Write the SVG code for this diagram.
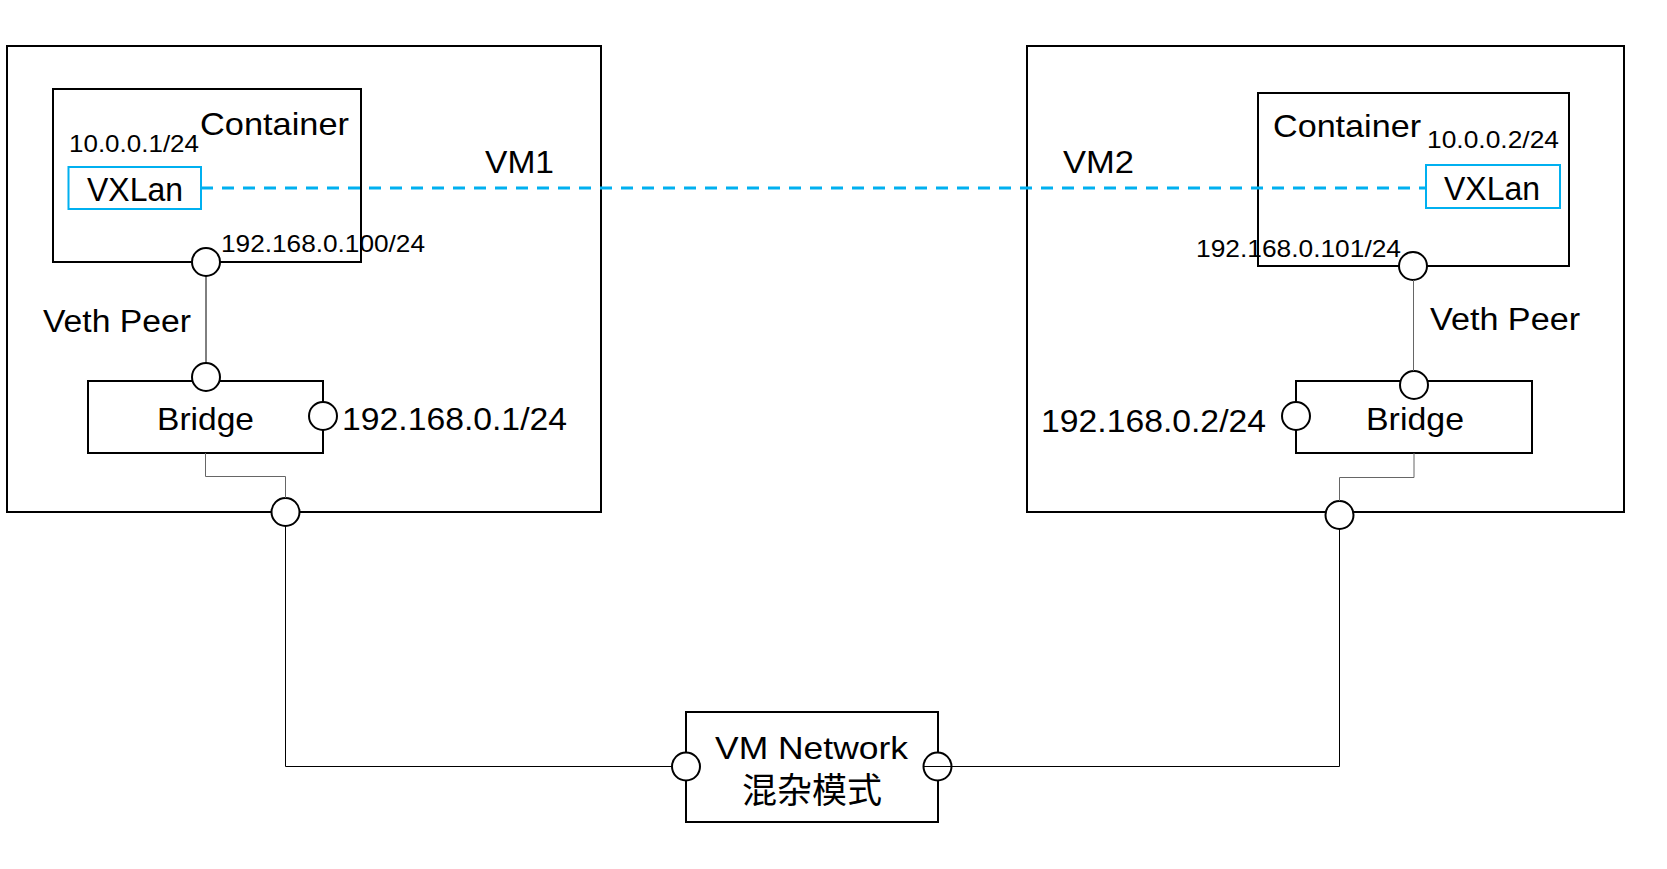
<svg xmlns="http://www.w3.org/2000/svg" width="1667" height="869" viewBox="0 0 1667 869">
<style>
.box{fill:#fff;stroke:#000;stroke-width:2}
.vx{fill:#fff;stroke:#00B0F0;stroke-width:2}
.port{fill:#fff;stroke:#000;stroke-width:2}
.ln{fill:none;stroke:#000;stroke-width:1}
.lg{fill:none;stroke:#666;stroke-width:1}
.dash{fill:none;stroke:#00B0F0;stroke-width:3;stroke-dasharray:12 9}
text{font-family:"Liberation Sans","Noto Sans CJK SC",sans-serif;fill:#000}
.l{font-size:32px}
.s{font-size:24px}
</style>
<rect width="1667" height="869" fill="#fff"/>
<g id="vm1">
<rect class="box" x="7" y="46" width="594" height="466"/>
<text class="l" x="485" y="173" textLength="69" lengthAdjust="spacingAndGlyphs">VM1</text>
</g>
<g id="vm2">
<rect class="box" x="1027" y="46" width="597" height="466"/>
<text class="l" x="1063" y="173" textLength="71" lengthAdjust="spacingAndGlyphs">VM2</text>
</g>
<g id="container1">
<rect class="box" x="53" y="89" width="308" height="173"/>
<text class="l" x="200" y="135" textLength="149" lengthAdjust="spacingAndGlyphs">Container</text>
<text class="s" x="69" y="152" textLength="130" lengthAdjust="spacingAndGlyphs">10.0.0.1/24</text>
<text class="s" x="221" y="252" textLength="204" lengthAdjust="spacingAndGlyphs">192.168.0.100/24</text>
</g>
<g id="vxlan1">
<rect class="vx" x="68.5" y="167" width="132.5" height="42"/>
<text x="87" y="201" font-size="33" textLength="96" lengthAdjust="spacingAndGlyphs">VXLan</text>
</g>
<g id="container2">
<rect class="box" x="1258" y="93" width="311" height="173"/>
<text class="l" x="1273" y="137" textLength="148" lengthAdjust="spacingAndGlyphs">Container</text>
<text class="s" x="1427" y="148" textLength="132" lengthAdjust="spacingAndGlyphs">10.0.0.2/24</text>
<text class="s" x="1196" y="257" textLength="205" lengthAdjust="spacingAndGlyphs">192.168.0.101/24</text>
</g>
<g id="vxlan2">
<rect class="vx" x="1426" y="165" width="134" height="43"/>
<text x="1444" y="200" font-size="33" textLength="96" lengthAdjust="spacingAndGlyphs">VXLan</text>
</g>
<g id="bridge1">
<rect class="box" x="88" y="381" width="235" height="72"/>
<text class="l" x="157" y="430" textLength="97" lengthAdjust="spacingAndGlyphs">Bridge</text>
<text class="l" x="342" y="430" textLength="225" lengthAdjust="spacingAndGlyphs">192.168.0.1/24</text>
</g>
<g id="bridge2">
<rect class="box" x="1296" y="381" width="236" height="72"/>
<text class="l" x="1366" y="430" textLength="98" lengthAdjust="spacingAndGlyphs">Bridge</text>
<text class="l" x="1041" y="432" textLength="225" lengthAdjust="spacingAndGlyphs">192.168.0.2/24</text>
</g>
<g id="vmnet">
<rect class="box" x="686" y="712" width="252" height="110"/>
<text class="l" x="715" y="759" textLength="193" lengthAdjust="spacingAndGlyphs">VM Network</text>
<text x="812" y="803" font-size="35" text-anchor="middle" font-family="'Noto Sans CJK SC',sans-serif">混杂模式</text>
</g>
<g id="labels">
<text x="43" y="332" font-size="31" textLength="148" lengthAdjust="spacingAndGlyphs">Veth Peer</text>
<text x="1430" y="330" font-size="31" textLength="150" lengthAdjust="spacingAndGlyphs">Veth Peer</text>
</g>
<g id="ports">
<circle class="port" cx="206" cy="262" r="14"/>
<circle class="port" cx="206" cy="377" r="14"/>
<circle class="port" cx="323" cy="416" r="14"/>
<circle class="port" cx="285.5" cy="512" r="14"/>
<circle class="port" cx="1413" cy="266" r="14"/>
<circle class="port" cx="1414" cy="385" r="14"/>
<circle class="port" cx="1296" cy="416" r="14"/>
<circle class="port" cx="1339.5" cy="515" r="14"/>
<circle class="port" cx="686" cy="766.5" r="14"/>
<circle class="port" cx="937.5" cy="766.5" r="14"/>
</g>
<g id="connectors">
<path class="dash" d="M201 188 H1426"/>
<path class="ln" d="M206 276 V363"/>
<path class="lg" d="M205.5 453 V476.5 H285.5 V498"/>
<path class="ln" d="M285.5 526 V766.5 H672"/>
<path class="lg" d="M1413.5 280 V371"/>
<path class="lg" d="M1414 453 V477.5 H1339.5 V501"/>
<path class="ln" d="M1339.5 529 V766.5 H923.5"/>
</g>
</svg>
